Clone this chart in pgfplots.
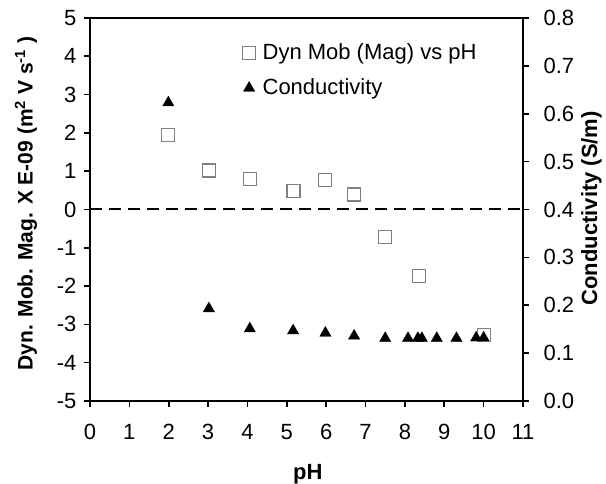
\documentclass[border=0pt]{standalone}
\usepackage{pgfplots}
\pgfplotsset{compat=1.18}
\usepackage{fontspec}
\setmainfont{Liberation Sans}
\begin{document}
\fontsize{22}{26}\selectfont
\begin{tikzpicture}
\pgfplotsset{
  common/.style={
    width=433pt, height=383pt, scale only axis,
    xmin=0, xmax=11,
    axis line style={line width=2pt, black},
    every tick/.style={line width=1.6pt, black},
    major tick length=6pt,
    tick align=outside,
    /pgf/number format/assume math mode=true,
    tick label style={font=\fontsize{22}{26}\selectfont},
    label style={font=\bfseries\fontsize{22}{26}\selectfont, inner sep=0pt},
  }
}
\begin{axis}[common, name=main,
  ymin=-5, ymax=5, ytick={-5,-4,-3,-2,-1,0,1,2,3,4,5},
  xtick={0,1,2,3,4,5,6,7,8,9,10,11},
  xtick pos=bottom, ytick pos=left,
  xticklabel style={yshift=-10pt},
  xlabel={pH},
  ylabel={Dyn. Mob. Mag. X E-09 (m\textsuperscript{2} V s\textsuperscript{-1} )},
  xlabel style={at={(axis description cs:0.503,-0.19)}, anchor=center},
  ylabel style={at={(axis description cs:-0.148,0.515)}, anchor=center, font=\bfseries\fontsize{21}{25}\selectfont},
  clip=false,
]
\addplot[black, dash pattern=on 12pt off 7pt, line width=2pt] coordinates {(0,0) (11,0)};
\addplot[only marks, mark=square, mark size=6.5pt, mark options={draw=gray, line width=1.2pt}] coordinates {
(1.99,1.95) (3.02,1.02) (4.07,0.80) (5.17,0.49) (5.96,0.76) (6.71,0.39) (7.5,-0.72) (8.36,-1.73) (10.0,-3.27)
};
\end{axis}
\begin{axis}[common,
  axis y line*=right, axis x line=none,
  ymin=0, ymax=0.8, ytick={0,0.1,0.2,0.3,0.4,0.5,0.6,0.7,0.8},
  yticklabel style={xshift=7pt, /pgf/number format/.cd, fixed, fixed zerofill, precision=1},
  ylabel={Conductivity (S/m)},
  ylabel style={at={(axis description cs:1.158,0.503)}, anchor=center},
  legend cell align=left,
  legend style={at={(axis description cs:0.352,0.94)}, anchor=north west, draw=none, fill=none,
    font=\fontsize{22}{26}\selectfont, row sep=12pt, inner sep=0pt,
    /tikz/every odd column/.append style={column sep=5pt}},
]
\addlegendimage{only marks, mark=square, mark size=6.5pt, mark options={draw=gray, line width=1.2pt}}
\addlegendentry{Dyn Mob (Mag) vs pH}
\addplot[only marks, mark=triangle*, mark size=6.5pt, black] coordinates {
(1.99,0.623) (3.02,0.193) (4.06,0.151) (5.16,0.147) (5.98,0.142) (6.71,0.136) (7.5,0.131) (8.08,0.131) (8.33,0.131) (8.43,0.131) (8.81,0.131) (9.31,0.131) (9.81,0.132) (10.0,0.132)
};
\addlegendentry{Conductivity}
\end{axis}
\path (main.south west) ++(-90pt,-82pt) rectangle ++(606pt,483pt);
\end{tikzpicture}
\end{document}
